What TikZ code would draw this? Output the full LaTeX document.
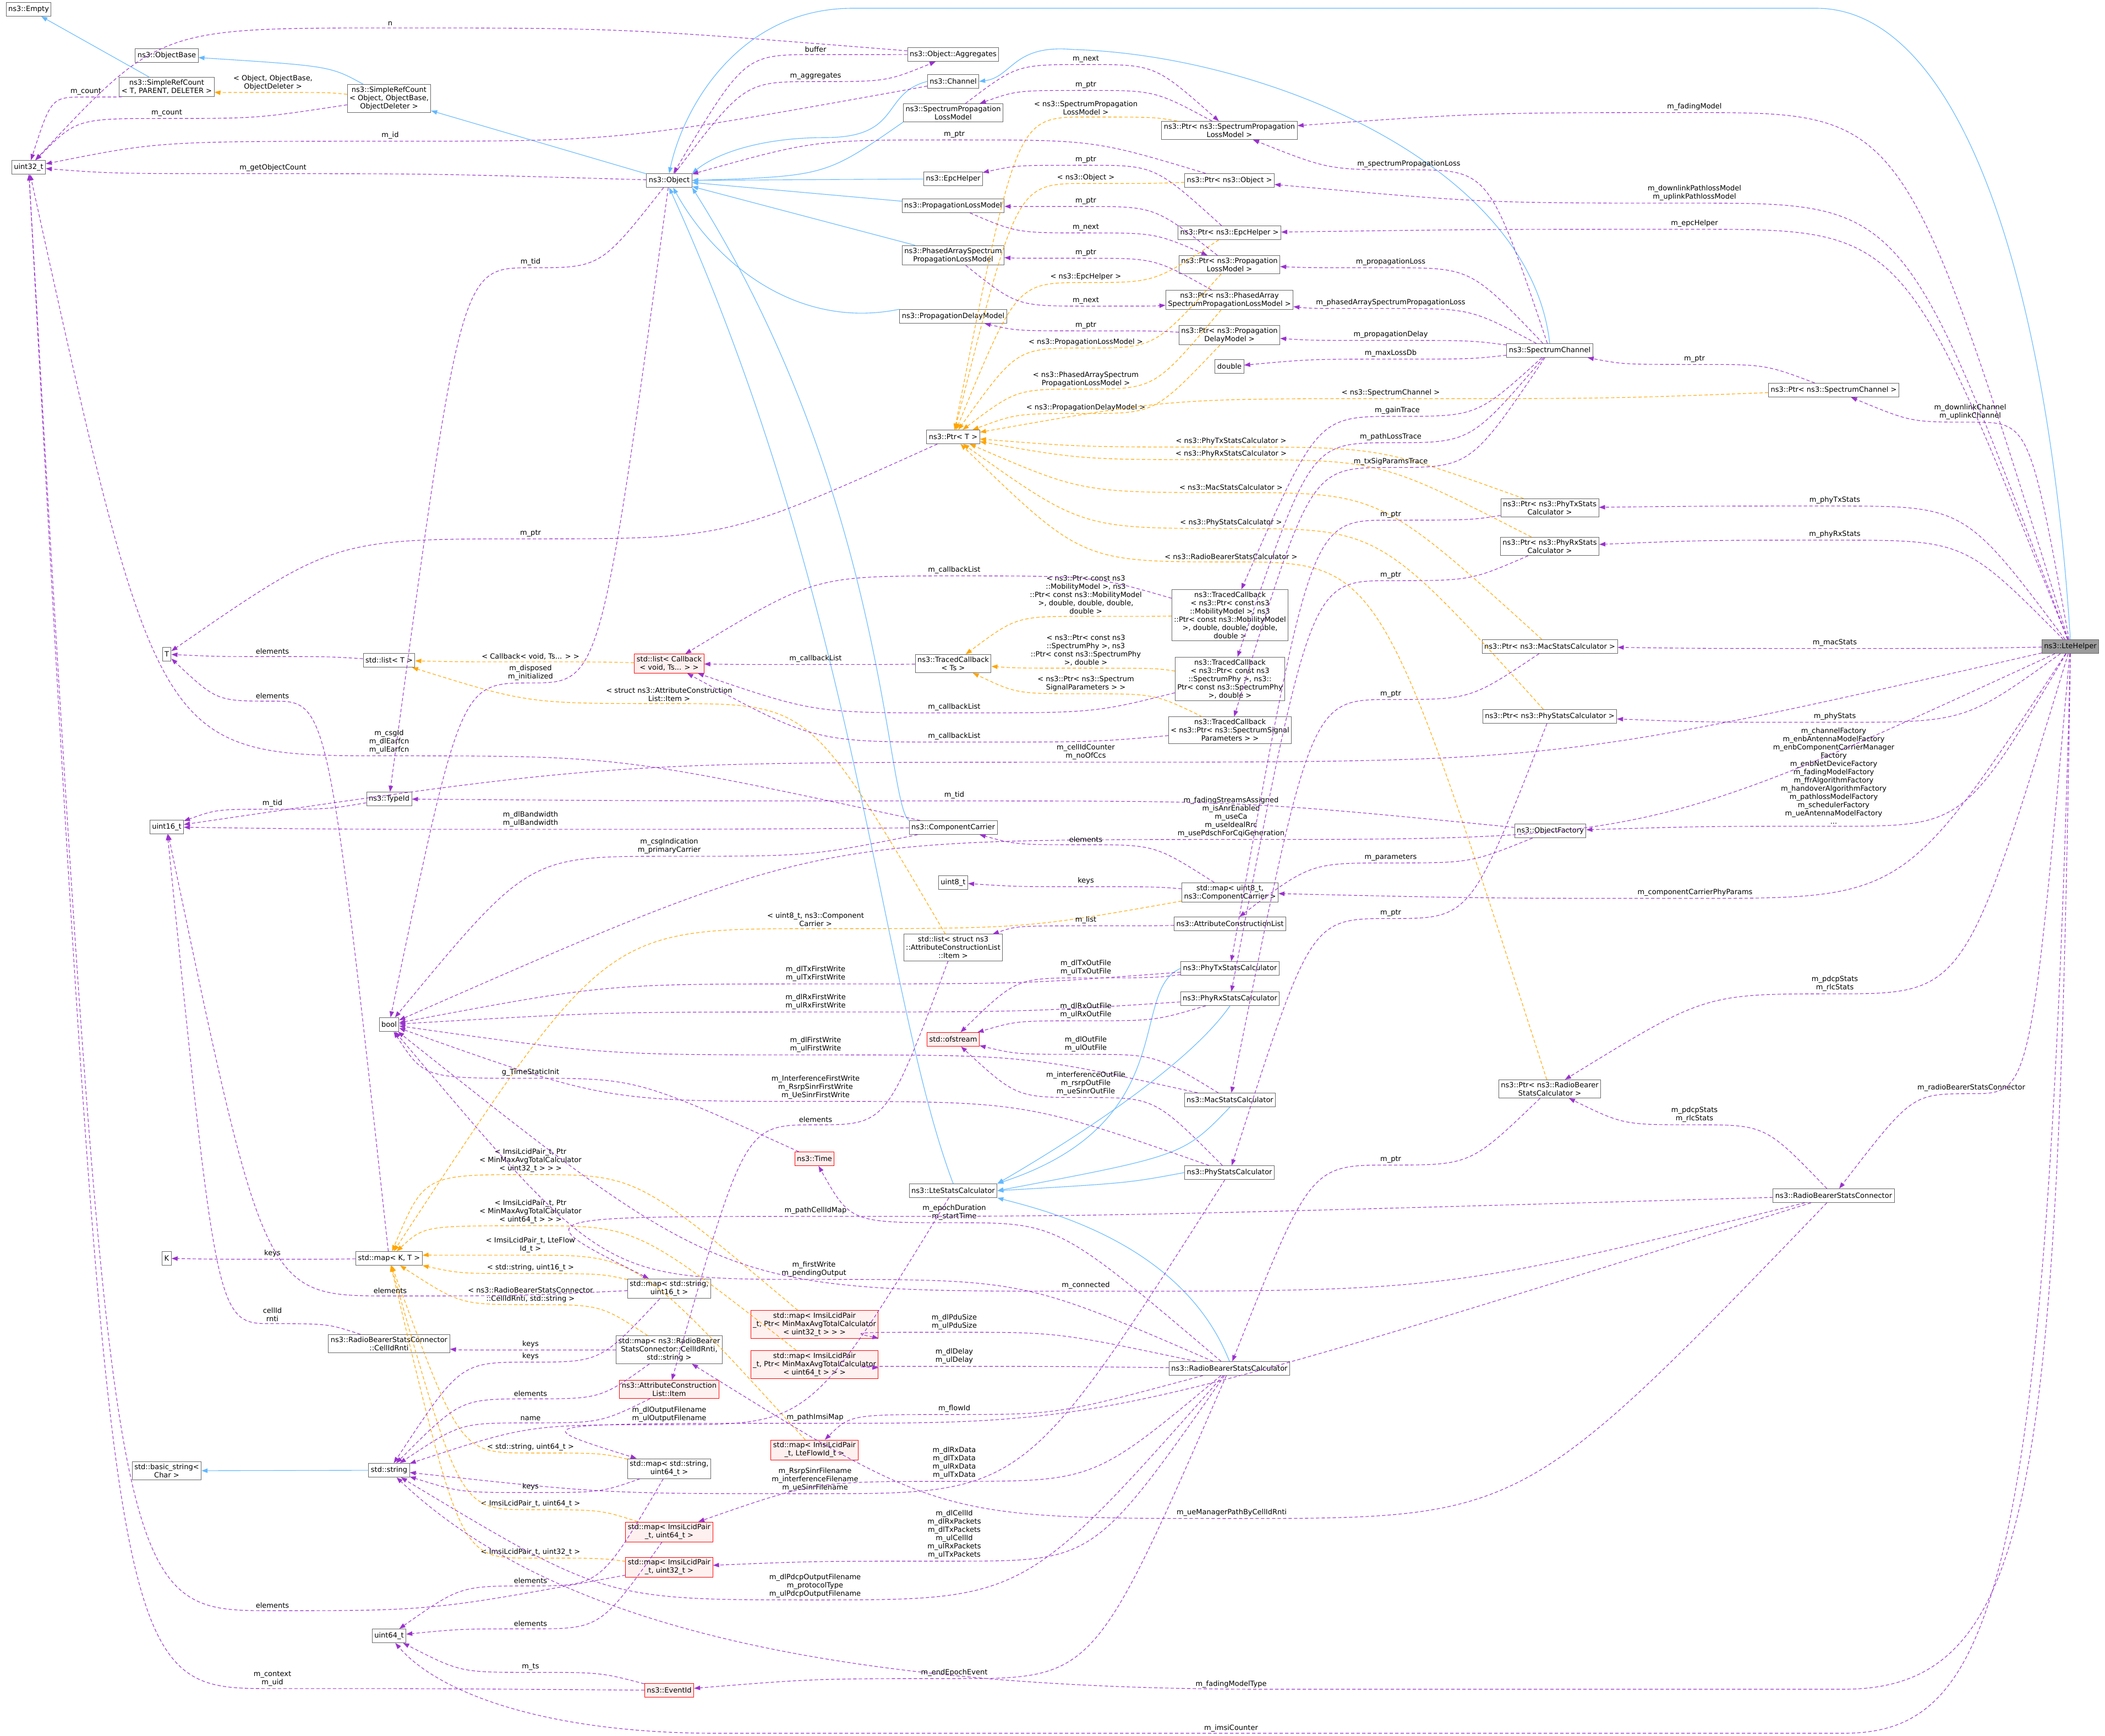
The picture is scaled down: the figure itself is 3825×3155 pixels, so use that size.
\documentclass[tikz,border=0pt]{standalone}
\usepackage{fontspec}
\setmainfont{DejaVu Sans}
\usetikzlibrary{calc,arrows.meta}
\definecolor{mcol}{HTML}{9A32CD}
\definecolor{tcol}{HTML}{FFA500}
\definecolor{icol}{HTML}{63B8FF}
\definecolor{bcol}{HTML}{666666}
\tikzset{
 box/.style={draw=bcol,line width=1pt,fill=white,align=center,inner sep=4pt,minimum height=25pt,font=\fontsize{13}{15}\selectfont},
 rbox/.style={box,draw=red,fill=red!6},
 gbox/.style={box,fill=bcol!65},
 lbl/.style={align=center,inner sep=1pt,font=\fontsize{13}{15}\selectfont},
 mem/.style={draw=mcol,line width=1.1pt,dash pattern=on 6pt off 4pt,-{Triangle[length=11pt,width=8pt]}},
 tpl/.style={draw=tcol,line width=1.1pt,dash pattern=on 6pt off 4pt,-{Triangle[length=11pt,width=8pt]}},
 inh/.style={draw=icol,line width=1.1pt,-{Triangle[length=11pt,width=8pt]}},
}
\newcommand\E[7]{\node[lbl] (#4) at (#5,#6) {#7};
 \coordinate (#4p) at ($(#4.south)+(0,3)$);
 \draw[#1] let \p1=(#2), \p2=(#3), \n1={0.25*(\x1-\x2)} in (#2) .. controls ($(#4p)+(\n1,0)$) .. (#4p) .. controls ($(#4p)-(\n1,0)$) .. (#3);}
\begin{document}
\begin{tikzpicture}[x=1pt,y=-1pt]
\useasboundingbox (0,0) rectangle (3825,3155);
% nodes
\node[box] (empty) at (52,17) {ns3::Empty};
\node[box] (objbase) at (303,101) {ns3::ObjectBase};
\node[box] (srcT) at (303,158) {ns3::SimpleRefCount\\< T, PARENT, DELETER >};
\node[box] (srcO) at (707,179) {ns3::SimpleRefCount\\< Object, ObjectBase,\\ObjectDeleter >};
\node[box] (u32) at (52,304) {uint32\_t};
\node[box] (obj) at (1216,328) {ns3::Object};
\node[box] (aggr) at (1732,99) {ns3::Object::Aggregates};
\node[box] (chan) at (1732,148) {ns3::Channel};
\node[box] (splm) at (1732,205) {ns3::SpectrumPropagation\\LossModel};
\node[box] (epc) at (1732,325) {ns3::EpcHelper};
\node[box] (plm) at (1732,374) {ns3::PropagationLossModel};
\node[box] (pasplm) at (1732,464) {ns3::PhasedArraySpectrum\\PropagationLossModel};
\node[box] (pdm) at (1732,575) {ns3::PropagationDelayModel};
\node[box] (ptrT) at (1732,794) {ns3::Ptr< T >};
\node[box] (pSplm) at (2234,237) {ns3::Ptr< ns3::SpectrumPropagation\\LossModel >};
\node[box] (pObj) at (2234,328) {ns3::Ptr< ns3::Object >};
\node[box] (pEpc) at (2234,423) {ns3::Ptr< ns3::EpcHelper >};
\node[box] (pPlm) at (2234,481) {ns3::Ptr< ns3::Propagation\\LossModel >};
\node[box] (pPas) at (2234,545) {ns3::Ptr< ns3::PhasedArray\\SpectrumPropagationLossModel >};
\node[box] (pPdm) at (2234,609) {ns3::Ptr< ns3::Propagation\\DelayModel >};
\node[box] (dbl) at (2234,666) {double};
\node[box] (sc) at (2816,637) {ns3::SpectrumChannel};
\node[box] (pSc) at (3332,709) {ns3::Ptr< ns3::SpectrumChannel >};
\node[box] (pTx) at (2816,923) {ns3::Ptr< ns3::PhyTxStats\\Calculator >};
\node[box] (pRx) at (2816,993) {ns3::Ptr< ns3::PhyRxStats\\Calculator >};
\node[gbox] (lte) at (3762,1175) {ns3::LteHelper};
\node[box] (pMac) at (2816,1175) {ns3::Ptr< ns3::MacStatsCalculator >};
\node[box] (pPhy) at (2816,1302) {ns3::Ptr< ns3::PhyStatsCalculator >};
\node[box] (ofac) at (2817,1510) {ns3::ObjectFactory};
\node[box] (pRb) at (2816,1979) {ns3::Ptr< ns3::RadioBearer\\StatsCalculator >};
\node[box] (tcMob) at (2235,1118) {ns3::TracedCallback\\< ns3::Ptr< const ns3\\::MobilityModel >, ns3\\::Ptr< const ns3::MobilityModel\\>, double, double, double,\\double >};
\node[box] (tcTs) at (1732,1206) {ns3::TracedCallback\\< Ts >};
\node[box] (tcPhy) at (2235,1234) {ns3::TracedCallback\\< ns3::Ptr< const ns3\\::SpectrumPhy >, ns3::\\Ptr< const ns3::SpectrumPhy\\>, double >};
\node[box] (tcSig) at (2235,1327) {ns3::TracedCallback\\< ns3::Ptr< ns3::SpectrumSignal\\Parameters > >};
\node[box] (cc) at (1732,1504) {ns3::ComponentCarrier};
\node[box] (u8) at (1732,1604) {uint8\_t};
\node[box] (mapCC) at (2235,1622) {std::map< uint8\_t,\\ns3::ComponentCarrier >};
\node[box] (acl) at (2235,1679) {ns3::AttributeConstructionList};
\node[box] (lstItem) at (1732,1722) {std::list< struct ns3\\::AttributeConstructionList\\::Item >};
\node[box] (txc) at (2235,1760) {ns3::PhyTxStatsCalculator};
\node[box] (rxc) at (2235,1815) {ns3::PhyRxStatsCalculator};
\node[rbox] (ofs) at (1732,1889) {std::ofstream};
\node[box] (macc) at (2235,1999) {ns3::MacStatsCalculator};
\node[box] (T) at (303,1189) {T};
\node[box] (lstT) at (707,1200) {std::list< T >};
\node[rbox] (lstCb) at (1216,1206) {std::list< Callback\\< void, Ts... > >};
\node[box] (tid) at (707,1452) {ns3::TypeId};
\node[box] (u16) at (303,1503) {uint16\_t};
\node[box] (bool) at (707,1862) {bool};
\node[box] (K) at (303,2287) {K};
\node[box] (mapKT) at (707,2287) {std::map< K, T >};
\node[box] (mapS16) at (1216,2342) {std::map< std::string,\\uint16\_t >};
\node[box] (cidr) at (707,2442) {ns3::RadioBearerStatsConnector\\::CellIdRnti};
\node[box] (mapCid) at (1216,2453) {std::map< ns3::RadioBearer\\StatsConnector::CellIdRnti,\\std::string >};
\node[rbox] (aclItem) at (1216,2525) {ns3::AttributeConstruction\\List::Item};
\node[box] (bstr) at (303,2673) {std::basic\_string<\\Char >};
\node[box] (str) at (707,2672) {std::string};
\node[box] (mapS64) at (1216,2669) {std::map< std::string,\\uint64\_t >};
\node[rbox] (mapI64) at (1216,2784) {std::map< ImsiLcidPair\\\_t, uint64\_t >};
\node[rbox] (mapI32) at (1216,2848) {std::map< ImsiLcidPair\\\_t, uint32\_t >};
\node[box] (u64) at (707,2973) {uint64\_t};
\node[rbox] (evt) at (1216,3072) {ns3::EventId};
\node[rbox] (time) at (1480,2106) {ns3::Time};
\node[box] (ltesc) at (1732,2164) {ns3::LteStatsCalculator};
\node[box] (phyc) at (2234,2131) {ns3::PhyStatsCalculator};
\node[rbox] (mapP32) at (1480,2407) {std::map< ImsiLcidPair\\\_t, Ptr< MinMaxAvgTotalCalculator\\< uint32\_t > > >};
\node[rbox] (mapP64) at (1480,2480) {std::map< ImsiLcidPair\\\_t, Ptr< MinMaxAvgTotalCalculator\\< uint64\_t > > >};
\node[box] (rbsc) at (2234,2487) {ns3::RadioBearerStatsCalculator};
\node[rbox] (mapFlow) at (1480,2635) {std::map< ImsiLcidPair\\\_t, LteFlowId\_t >};
\node[box] (rbconn) at (3332,2173) {ns3::RadioBearerStatsConnector};
% inheritance
\draw[inh] (srcT) -- (empty);
\draw[inh] (srcO) .. controls (600,120) .. (objbase);
\draw[inh] (obj) -- (srcO);
\draw[inh] (chan.west) .. controls (1600,170) and (1640,250) .. (1500,250) .. controls (1380,250) and (1300,280) .. (obj.north east);
\draw[inh] (splm.south west) .. controls (1500,320) .. (obj.east);
\draw[inh] (epc) -- (obj);
\draw[inh] (plm) -- (obj);
\draw[inh] (pasplm) -- (obj);
\draw[inh] (pdm.north west) .. controls (1450,600) and (1300,480) .. (obj);
\draw[inh] (cc.north west) .. controls (1610,1460) and (1610,900) .. (obj.south east);
\draw[inh] (ltesc.north) .. controls (1600,1800) and (1560,1100) .. (obj.south);
\draw[inh] (sc.north) .. controls (2780,300) and (2300,100) .. (1950,90) .. controls (1840,80) and (1840,140) .. (chan.east);
\draw[inh] (lte.north) .. controls (3720,500) and (3560,15) .. (3300,15) -- (1550,15) .. controls (1340,15) and (1240,200) .. (obj.north);
\draw[inh] (str) -- (bstr);
\draw[inh] (txc.west) .. controls (2050,1800) and (2150,2040) .. (ltesc.north east);
\draw[inh] (rxc.south) .. controls (2150,1950) and (1900,2100) .. (ltesc.north east);
\draw[inh] (macc.south) .. controls (2150,2100) .. (ltesc.east);
\draw[inh] (phyc.west) .. controls (2050,2150) .. (ltesc.east);
\draw[inh] (rbsc.north) .. controls (2150,2260) and (1900,2200) .. (ltesc.south east);
% templates
\E{tpl}{srcO}{srcT}{la1}{496}{150}{< Object, ObjectBase,\\ObjectDeleter >}
\E{tpl}{pSplm}{ptrT}{la2}{1973}{196}{< ns3::SpectrumPropagation\\LossModel >}
\E{tpl}{pObj}{ptrT}{la3}{1973}{323}{< ns3::Object >}
\E{tpl}{pEpc}{ptrT}{la4}{1973}{503}{< ns3::EpcHelper >}
\E{tpl}{pPlm}{ptrT}{la5}{1973}{622}{< ns3::PropagationLossModel >}
\E{tpl}{pPas}{ptrT}{la6}{1973}{689}{< ns3::PhasedArraySpectrum\\PropagationLossModel >}
\E{tpl}{pPdm}{ptrT}{la7}{1973}{741}{< ns3::PropagationDelayModel >}
\E{tpl}{pSc}{ptrT}{la8}{2527}{714}{< ns3::SpectrumChannel >}
\E{tpl}{pTx}{ptrT}{la9}{2237}{802}{< ns3::PhyTxStatsCalculator >}
\E{tpl}{pRx}{ptrT}{la10}{2237}{825}{< ns3::PhyRxStatsCalculator >}
\E{tpl}{pMac}{ptrT}{la11}{2237}{886}{< ns3::MacStatsCalculator >}
\E{tpl}{pPhy}{ptrT}{la12}{2237}{950}{< ns3::PhyStatsCalculator >}
\E{tpl}{pRb}{ptrT}{la13}{2237}{1012}{< ns3::RadioBearerStatsCalculator >}
\E{tpl}{tcMob}{tcTs}{la14}{1973}{1081}{< ns3::Ptr< const ns3\\::MobilityModel >, ns3\\::Ptr< const ns3::MobilityModel\\>, double, double, double,\\double >}
\E{tpl}{tcPhy}{tcTs}{la15}{1973}{1182}{< ns3::Ptr< const ns3\\::SpectrumPhy >, ns3\\::Ptr< const ns3::SpectrumPhy\\>, double >}
\E{tpl}{tcSig}{tcTs}{la16}{1973}{1243}{< ns3::Ptr< ns3::Spectrum\\SignalParameters > >}
\E{tpl}{lstCb}{lstT}{la17}{964}{1193}{< Callback< void, Ts... > >}
\E{tpl}{lstItem}{lstT}{la18}{1216}{1262}{< struct ns3::AttributeConstruction\\List::Item >}
\E{tpl}{mapCC}{mapKT}{la19}{1482}{1671}{< uint8\_t, ns3::Component\\Carrier >}
\E{tpl}{mapP32}{mapKT}{la20}{964}{2109}{< ImsiLcidPair\_t, Ptr\\< MinMaxAvgTotalCalculator\\< uint32\_t > > >}
\E{tpl}{mapP64}{mapKT}{la21}{964}{2202}{< ImsiLcidPair\_t, Ptr\\< MinMaxAvgTotalCalculator\\< uint64\_t > > >}
\E{tpl}{mapFlow}{mapKT}{la22}{964}{2263}{< ImsiLcidPair\_t, LteFlow\\Id\_t >}
\E{tpl}{mapS16}{mapKT}{la23}{964}{2304}{< std::string, uint16\_t >}
\E{tpl}{mapCid}{mapKT}{la24}{964}{2353}{< ns3::RadioBearerStatsConnector\\::CellIdRnti, std::string >}
\E{tpl}{mapS64}{mapKT}{la25}{964}{2630}{< std::string, uint64\_t >}
\E{tpl}{mapI64}{mapKT}{la26}{964}{2733}{< ImsiLcidPair\_t, uint64\_t >}
\E{tpl}{mapI32}{mapKT}{la27}{964}{2821}{< ImsiLcidPair\_t, uint32\_t >}
% members
\E{mem}{aggr}{u32}{m1}{709}{43}{n}
\E{mem}{aggr}{obj}{m2}{1482}{90}{buffer}
\E{mem}{obj}{aggr}{m3}{1482}{138}{m\_aggregates}
\E{mem}{srcT}{u32}{m4}{156}{166}{m\_count}
\E{mem}{srcO}{u32}{m5}{303}{205}{m\_count}
\E{mem}{chan}{u32}{m6}{709}{246}{m\_id}
\E{mem}{obj}{u32}{m7}{496}{305}{m\_getObjectCount}
\E{mem}{obj}{tid}{m8}{964}{476}{m\_tid}
\E{mem}{obj}{bool}{m9}{964}{1223}{m\_disposed\\m\_initialized}
\E{mem}{ptrT}{T}{m10}{964}{969}{m\_ptr}
\E{mem}{splm}{pSplm}{m11}{1973}{107}{m\_next}
\E{mem}{pSplm}{splm}{m12}{1973}{154}{m\_ptr}
\E{mem}{pObj}{obj}{m13}{1734}{244}{m\_ptr}
\E{mem}{pEpc}{epc}{m14}{1973}{290}{m\_ptr}
\E{mem}{pPlm}{plm}{m15}{1973}{365}{m\_ptr}
\E{mem}{plm}{pPlm}{m16}{1973}{413}{m\_next}
\E{mem}{pPas}{pasplm}{m17}{1973}{459}{m\_ptr}
\E{mem}{pasplm}{pPas}{m18}{1973}{546}{m\_next}
\E{mem}{pPdm}{pdm}{m19}{1973}{591}{m\_ptr}
\E{mem}{sc}{pSplm}{m20}{2560}{298}{m\_spectrumPropagationLoss}
\E{mem}{sc}{pPlm}{m21}{2527}{476}{m\_propagationLoss}
\E{mem}{sc}{pPas}{m22}{2527}{550}{m\_phasedArraySpectrumPropagationLoss}
\E{mem}{sc}{pPdm}{m23}{2527}{608}{m\_propagationDelay}
\E{mem}{sc}{dbl}{m24}{2527}{642}{m\_maxLossDb}
\E{mem}{sc}{tcMob}{m25}{2539}{746}{m\_gainTrace}
\E{mem}{sc}{tcPhy}{m26}{2527}{794}{m\_pathLossTrace}
\E{mem}{sc}{tcSig}{m27}{2527}{839}{m\_txSigParamsTrace}
\E{mem}{pSc}{sc}{m28}{3079}{652}{m\_ptr}
\E{mem}{lte}{pSplm}{m29}{3079}{194}{m\_fadingModel}
\E{mem}{lte}{pObj}{m30}{3079}{351}{m\_downlinkPathlossModel\\m\_uplinkPathlossModel}
\E{mem}{lte}{pEpc}{m31}{3079}{406}{m\_epcHelper}
\E{mem}{lte}{pSc}{m32}{3580}{749}{m\_downlinkChannel\\m\_uplinkChannel}
\E{mem}{lte}{pTx}{m33}{3334}{909}{m\_phyTxStats}
\E{mem}{lte}{pRx}{m34}{3334}{971}{m\_phyRxStats}
\E{mem}{lte}{pMac}{m35}{3334}{1168}{m\_macStats}
\E{mem}{lte}{pPhy}{m36}{3334}{1302}{m\_phyStats}
\E{mem}{lte}{ofac}{m37}{3332}{1410}{m\_channelFactory\\m\_enbAntennaModelFactory\\m\_enbComponentCarrierManager\\Factory\\m\_enbNetDeviceFactory\\m\_fadingModelFactory\\m\_ffrAlgorithmFactory\\m\_handoverAlgorithmFactory\\m\_pathlossModelFactory\\m\_schedulerFactory\\m\_ueAntennaModelFactory\\...}
\E{mem}{lte}{mapCC}{m38}{3080}{1622}{m\_componentCarrierPhyParams}
\E{mem}{lte}{pRb}{m39}{3334}{1788}{m\_pdcpStats\\m\_rlcStats}
\E{mem}{lte}{rbconn}{m40}{3582}{1977}{m\_radioBearerStatsConnector}
\E{mem}{lte}{bool}{m41}{2237}{1485}{m\_fadingStreamsAssigned\\m\_isAnrEnabled\\m\_useCa\\m\_useIdealRrc\\m\_usePdschForCqiGeneration}
\E{mem}{lte}{u16}{m42}{1973}{1367}{m\_cellIdCounter\\m\_noOfCcs}
\node[lbl] (m43) at (2237,3061) {m\_fadingModelType};
\draw[mem] (lte.south) .. controls (3740,2700) and (3700,3070) .. (3350,3070) -- (2300,3070) .. controls (1500,3070) and (1000,2950) .. (str);
\node[lbl] (m44) at (2237,3141) {m\_imsiCounter};
\draw[mem] (lte.south) .. controls (3720,2900) and (3620,3150) .. (3350,3150) -- (1300,3150) .. controls (1000,3150) and (800,3080) .. (u64);
\E{mem}{pTx}{txc}{m45}{2527}{935}{m\_ptr}
\E{mem}{pRx}{rxc}{m46}{2527}{1045}{m\_ptr}
\E{mem}{pMac}{macc}{m47}{2527}{1261}{m\_ptr}
\E{mem}{pPhy}{phyc}{m48}{2527}{1659}{m\_ptr}
\E{mem}{pRb}{rbsc}{m49}{2527}{2107}{m\_ptr}
\E{mem}{ofac}{tid}{m50}{1734}{1445}{m\_tid}
\E{mem}{ofac}{acl}{m51}{2527}{1558}{m\_parameters}
\E{mem}{tcMob}{lstCb}{m52}{1734}{1036}{m\_callbackList}
\E{mem}{tcTs}{lstCb}{m53}{1482}{1197}{m\_callbackList}
\E{mem}{tcPhy}{lstCb}{m54}{1734}{1285}{m\_callbackList}
\E{mem}{tcSig}{lstCb}{m55}{1734}{1338}{m\_callbackList}
\E{mem}{lstT}{T}{m56}{495}{1184}{elements}
\E{mem}{mapKT}{T}{m57}{495}{1265}{elements}
\E{mem}{mapKT}{K}{m58}{495}{2278}{keys}
\E{mem}{cc}{u16}{m59}{964}{1489}{m\_dlBandwidth\\m\_ulBandwidth}
\E{mem}{cc}{u32}{m60}{707}{1348}{m\_csgId\\m\_dlEarfcn\\m\_ulEarfcn}
\E{mem}{cc}{bool}{m61}{1216}{1538}{m\_csgIndication\\m\_primaryCarrier}
\E{mem}{mapCC}{cc}{m62}{1973}{1526}{elements}
\E{mem}{mapCC}{u8}{m63}{1973}{1601}{keys}
\E{mem}{acl}{lstItem}{m64}{1973}{1672}{m\_list}
\E{mem}{lstItem}{aclItem}{m65}{1482}{2035}{elements}
\E{mem}{txc}{bool}{m66}{1482}{1770}{m\_dlTxFirstWrite\\m\_ulTxFirstWrite}
\E{mem}{txc}{ofs}{m67}{1973}{1759}{m\_dlTxOutFile\\m\_ulTxOutFile}
\E{mem}{rxc}{bool}{m68}{1482}{1821}{m\_dlRxFirstWrite\\m\_ulRxFirstWrite}
\E{mem}{rxc}{ofs}{m69}{1973}{1837}{m\_dlRxOutFile\\m\_ulRxOutFile}
\E{mem}{macc}{bool}{m70}{1482}{1899}{m\_dlFirstWrite\\m\_ulFirstWrite}
\E{mem}{macc}{ofs}{m71}{1973}{1898}{m\_dlOutFile\\m\_ulOutFile}
\E{mem}{phyc}{bool}{m72}{1482}{1976}{m\_InterferenceFirstWrite\\m\_RsrpSinrFirstWrite\\m\_UeSinrFirstWrite}
\E{mem}{phyc}{ofs}{m73}{1973}{1969}{m\_interferenceOutFile\\m\_rsrpOutFile\\m\_ueSinrOutFile}
\E{mem}{time}{bool}{m74}{964}{1949}{g\_TimeStaticInit}
\E{mem}{ltesc}{str}{m75}{1216}{2571}{m\_dlOutputFilename\\m\_ulOutputFilename}
\E{mem}{phyc}{str}{m76}{1481}{2689}{m\_RsrpSinrFilename\\m\_interferenceFilename\\m\_ueSinrFilename}
\E{mem}{rbsc}{str}{m77}{1481}{2882}{m\_dlPdcpOutputFilename\\m\_protocolType\\m\_ulPdcpOutputFilename}
\E{mem}{rbsc}{time}{m78}{1734}{2204}{m\_epochDuration\\m\_startTime}
\E{mem}{rbsc}{bool}{m79}{1479}{2307}{m\_firstWrite\\m\_pendingOutput}
\E{mem}{rbsc}{mapP32}{m80}{1734}{2403}{m\_dlPduSize\\m\_ulPduSize}
\E{mem}{rbsc}{mapP64}{m81}{1734}{2465}{m\_dlDelay\\m\_ulDelay}
\E{mem}{rbsc}{mapFlow}{m82}{1734}{2560}{m\_flowId}
\E{mem}{rbsc}{mapI64}{m83}{1734}{2659}{m\_dlRxData\\m\_dlTxData\\m\_ulRxData\\m\_ulTxData}
\E{mem}{rbsc}{mapI32}{m84}{1734}{2789}{m\_dlCellId\\m\_dlRxPackets\\m\_dlTxPackets\\m\_ulCellId\\m\_ulRxPackets\\m\_ulTxPackets}
\E{mem}{rbsc}{evt}{m85}{1734}{3040}{m\_endEpochEvent}
\E{mem}{rbconn}{bool}{m86}{1973}{2336}{m\_connected}
\E{mem}{rbconn}{pRb}{m87}{3079}{2026}{m\_pdcpStats\\m\_rlcStats}
\E{mem}{rbconn}{mapS16}{m88}{1482}{2200}{m\_pathCellIdMap}
\E{mem}{rbconn}{mapS64}{m89}{1481}{2576}{m\_pathImsiMap}
\E{mem}{rbconn}{mapCid}{m90}{2238}{2749}{m\_ueManagerPathByCellIdRnti}
\E{mem}{mapS16}{str}{m91}{964}{2465}{keys}
\E{mem}{mapS16}{u16}{m92}{709}{2346}{elements}
\E{mem}{mapCid}{cidr}{m93}{964}{2443}{keys}
\E{mem}{mapCid}{str}{m94}{964}{2533}{elements}
\E{mem}{cidr}{u16}{m95}{495}{2389}{cellId\\rnti}
\E{mem}{aclItem}{str}{m96}{964}{2578}{name}
\E{mem}{mapS64}{str}{m97}{964}{2702}{keys}
\E{mem}{mapS64}{u64}{m98}{964}{2873}{elements}
\E{mem}{mapI64}{u64}{m99}{964}{2951}{elements}
\E{mem}{mapI32}{u32}{m100}{495}{2918}{elements}
\E{mem}{evt}{u64}{m101}{964}{3029}{m\_ts}
\E{mem}{evt}{u32}{m102}{495}{3051}{m\_context\\m\_uid}
\E{mem}{tid}{u16}{m103}{495}{1460}{m\_tid}
\end{tikzpicture}
\end{document}
